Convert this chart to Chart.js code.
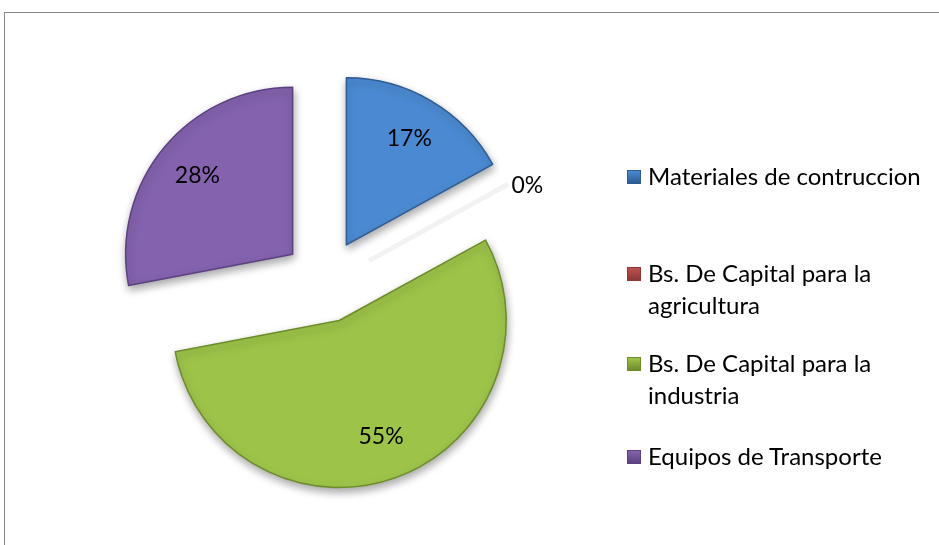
<!DOCTYPE html>
<html>
<head>
<meta charset="utf-8">
<script src="https://cdn.jsdelivr.net/npm/chart.js@4"></script>
<style>
    html, body { margin: 0; padding: 0; background: #fff; }
    body { width: 939px; height: 545px; overflow: hidden; position: relative; font-family: Lato, "Open Sans", sans-serif; }
    #frame { position: absolute; left: 4px; top: 12px; width: 1000px; height: 600px; border-top: 1px solid #878787; border-left: 1px solid #878787; }
    #c { position: absolute; left: 0; top: 0; }
    .leg { position: absolute; left: 648px; width: 300px; font-size: 24px; line-height: 32px; color: #000; }
    .leg i { position: absolute; left: -21px; top: 10px; width: 14px; height: 14px; box-sizing: border-box; }
</style>
</head>
<body>
<div id="frame"></div>
<canvas id="c" width="939" height="545"></canvas>
<div id="legend"></div>
<script>
// data
const categories = ['Materiales de contruccion', 'Bs. De Capital para la agricultura', 'Bs. De Capital para la industria', 'Equipos de Transporte'];
const shares = [17, 0, 55, 28];

// look
const fills = ['#4b8ad2', '#c0504d', '#9dc449', '#8462ae'];
const edges = ['#2d5c93', '#8c3836', '#6d8c2a', '#5b4182'];
const legendTops = [160, 257, 347, 440];
const pieRadius = 167;
const explodeBy = 42;

// legend as html so long names can wrap like the original
const legendDiv = document.getElementById('legend');
categories.forEach((name, i) => {
    const item = document.createElement('div');
    item.className = 'leg';
    item.style.top = legendTops[i] + 'px';
    item.innerHTML = `<i style="background:linear-gradient(${fills[i]}, ${edges[i]});border:1px solid ${edges[i]}"></i>${name}`;
    legendDiv.appendChild(item);
});

// pull every slice away from the centre, with a soft shadow
const explodePlugin = {
    id: 'explode',
    beforeDatasetDraw(chart, args) {
        const ctx = chart.ctx;
        args.meta.data.forEach(arc => {
            const mid = (arc.startAngle + arc.endAngle) / 2;
            ctx.save();
            ctx.translate(Math.cos(mid) * explodeBy, Math.sin(mid) * explodeBy);
            if (arc.endAngle - arc.startAngle === 0) {
                // the empty slice only leaves a faint streak
                ctx.strokeStyle = 'rgba(0,0,0,0.05)';
                ctx.lineWidth = 5;
                ctx.shadowColor = 'rgba(0,0,0,0.1)';
                ctx.shadowBlur = 4;
                ctx.beginPath();
                ctx.moveTo(arc.x + Math.cos(mid) * 8, arc.y + Math.sin(mid) * 8 + 4);
                ctx.lineTo(arc.x + Math.cos(mid) * arc.outerRadius, arc.y + Math.sin(mid) * arc.outerRadius + 4);
                ctx.stroke();
            } else {
                ctx.shadowColor = 'rgba(0,0,0,0.35)';
                ctx.shadowBlur = 8;
                ctx.shadowOffsetX = 1;
                ctx.shadowOffsetY = 4;
                arc.draw(ctx);
            }
            ctx.restore();
        });
        return false;
    }
};

// percentage labels
const labelPlugin = {
    id: 'pctLabels',
    afterDatasetsDraw(chart) {
        const ctx = chart.ctx;
        const meta = chart.getDatasetMeta(0);
        const total = shares.reduce((a, b) => a + b, 0);
        ctx.save();
        ctx.fillStyle = '#000';
        ctx.font = '23px Lato, "Open Sans", sans-serif';
        ctx.textBaseline = 'middle';
        meta.data.forEach((arc, i) => {
            const mid = (arc.startAngle + arc.endAngle) / 2;
            const txt = Math.round(shares[i] / total * 100) + '%';
            if (shares[i] === 0) {
                const d = arc.outerRadius + 32;
                ctx.textAlign = 'left';
                ctx.fillText(txt, arc.x + Math.cos(mid) * d + 12, arc.y + Math.sin(mid) * d);
            } else {
                const d = explodeBy + arc.outerRadius * 0.74;
                ctx.textAlign = 'center';
                ctx.fillText(txt, arc.x + Math.cos(mid) * d, arc.y + Math.sin(mid) * d);
            }
        });
        ctx.restore();
    }
};

new Chart(document.getElementById('c').getContext('2d'), {
    type: 'pie',
    data: {
        labels: categories,
        datasets: [{
            data: shares,
            radius: pieRadius,
            backgroundColor: fills,
            borderColor: edges,
            borderWidth: 1.5,
            borderJoinStyle: 'round'
        }]
    },
    options: {
        responsive: false,
        animation: false,
        events: [],
        layout: { padding: { left: 0, right: 289, top: 17, bottom: 0 } },
        plugins: {
            legend: { display: false },
            tooltip: { enabled: false }
        }
    },
    plugins: [explodePlugin, labelPlugin]
});
</script>
</body>
</html>
